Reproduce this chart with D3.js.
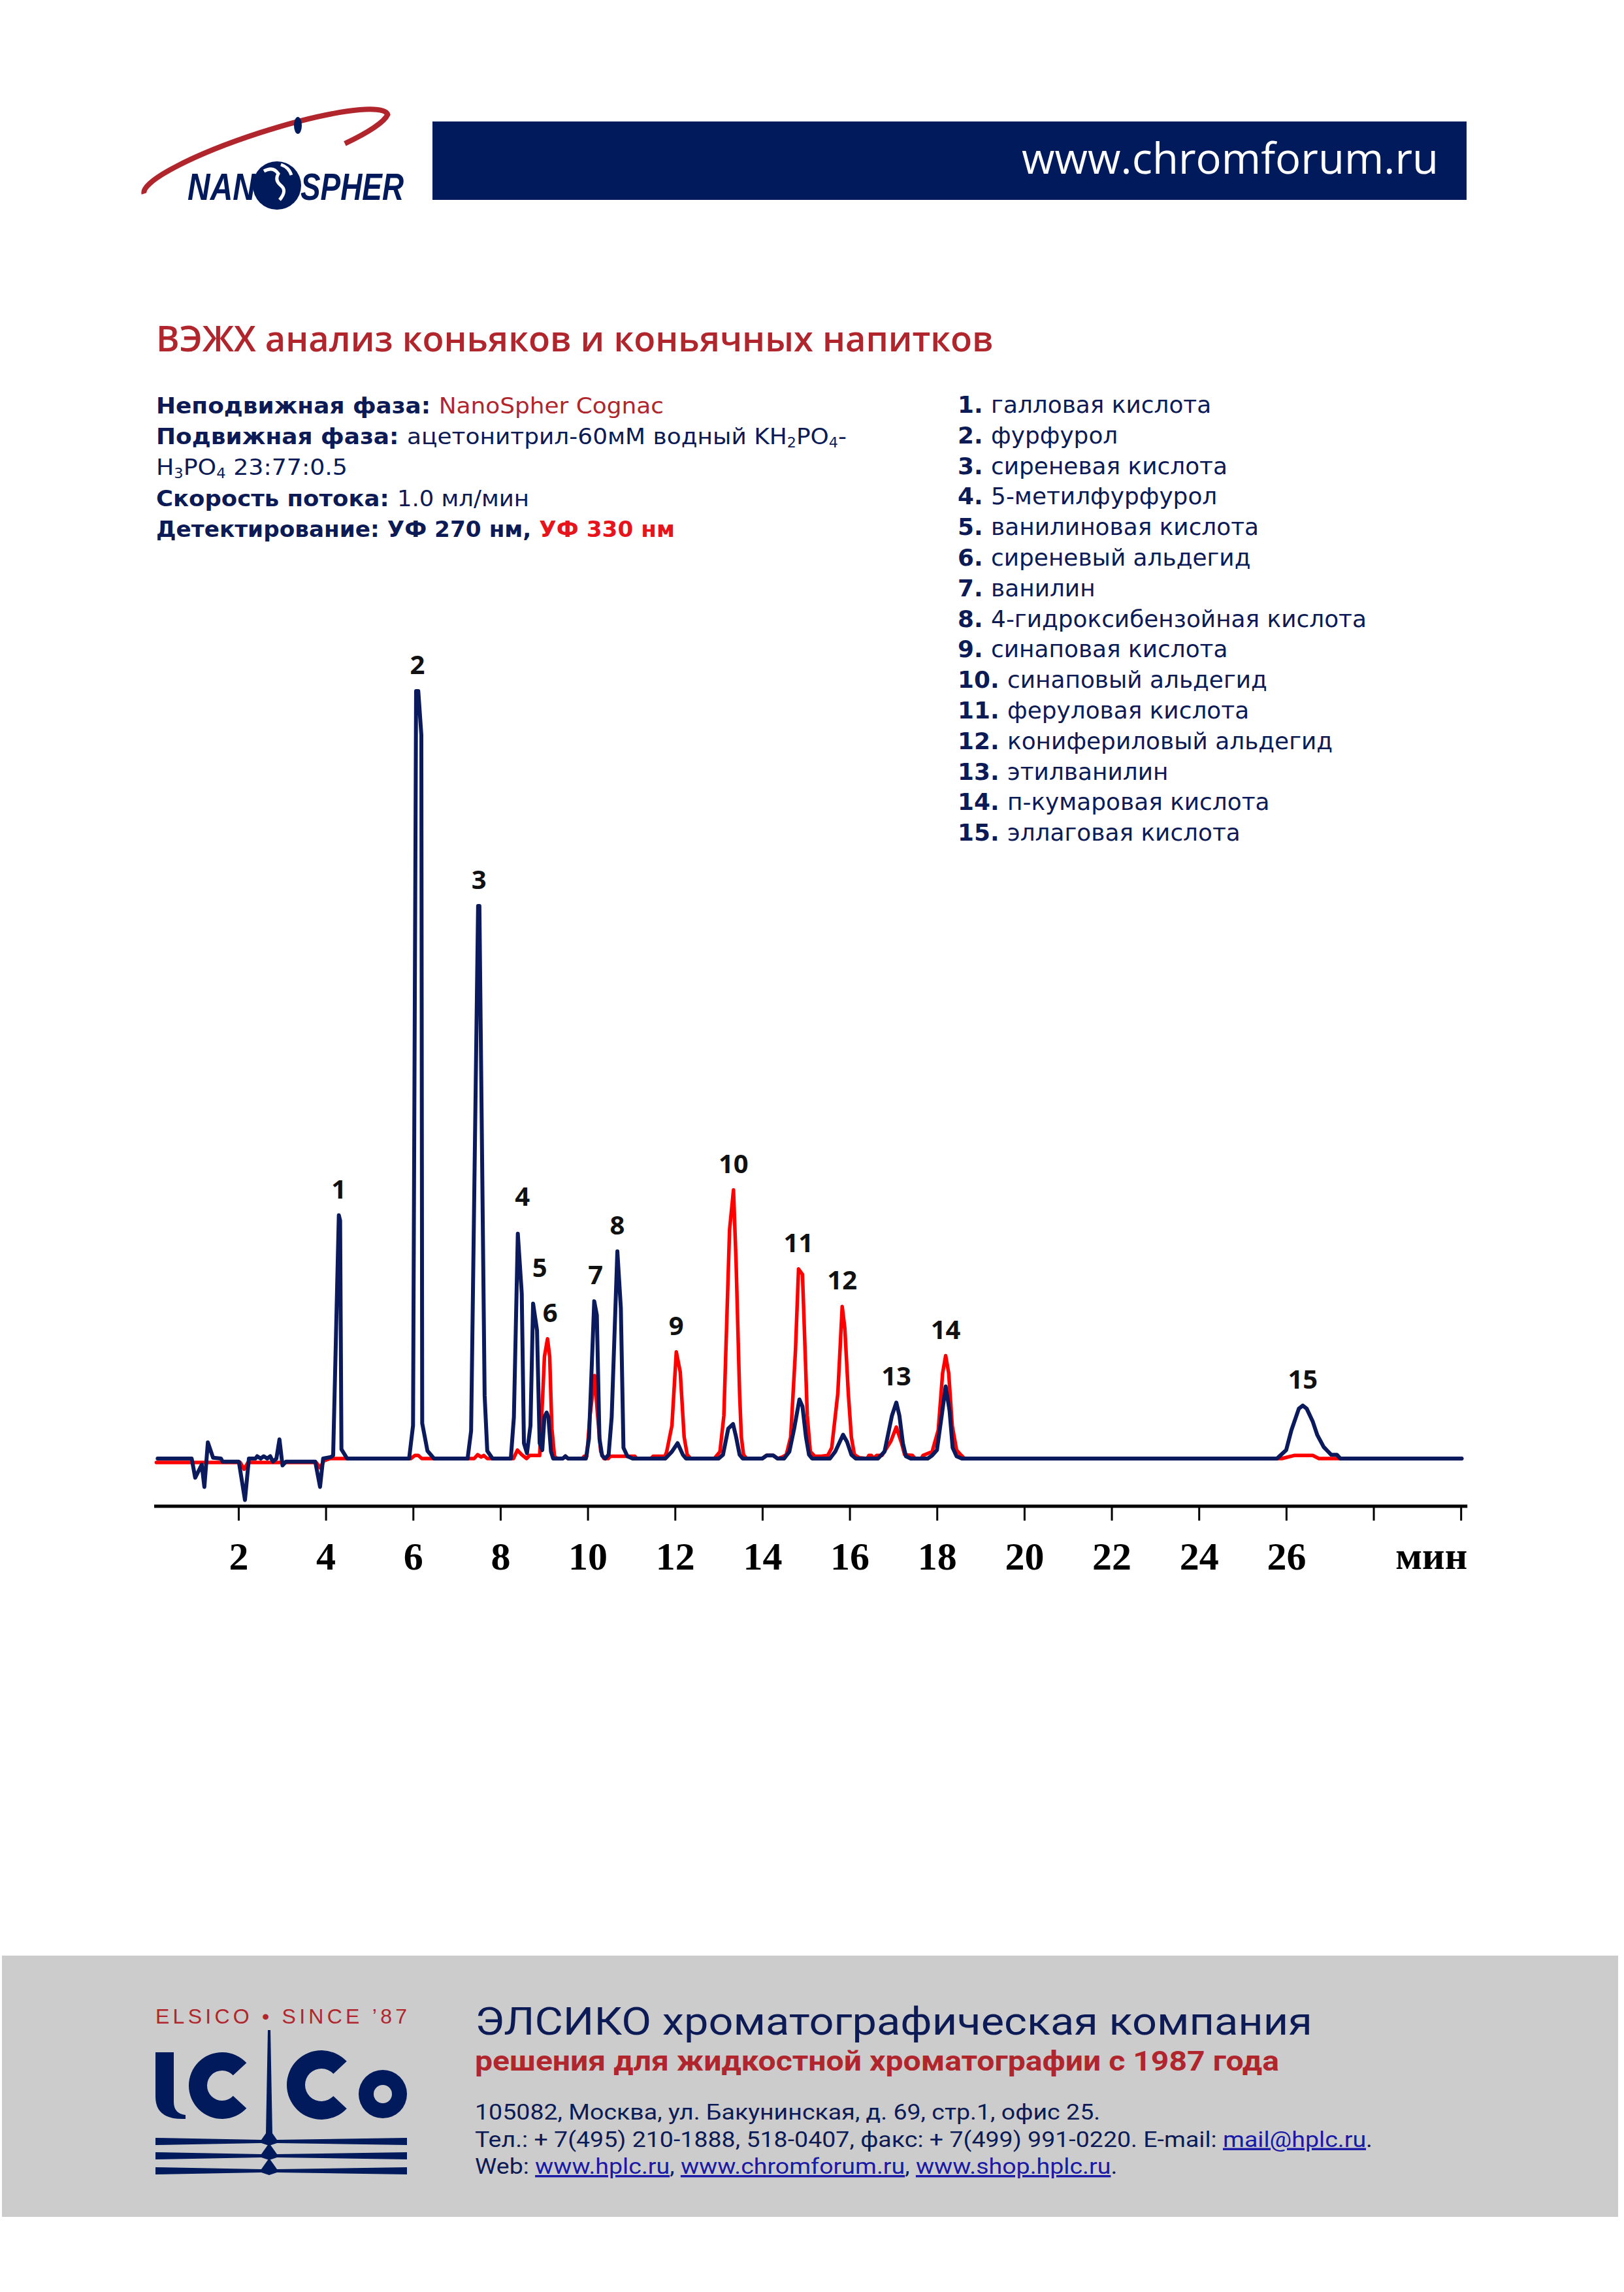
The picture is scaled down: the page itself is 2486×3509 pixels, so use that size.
<!DOCTYPE html>
<html><head><meta charset="utf-8">
<script src="https://cdn.jsdelivr.net/npm/d3@7"></script>
<style>body{margin:0;background:#fff}svg{display:block}</style>
</head><body>
<svg id="c" width="2486" height="3509"></svg>
<script>
// ---------- DATA ----------
// UV 270 nm trace (navy): [time, min ; signal, arbitrary units]
const uv270 = [
 [0.15,0],[0.93,0],[1.01,-25],[1.16,-8],[1.22,-37],[1.30,21],[1.42,1],[1.60,0],[1.64,-4],[2.01,-4],[2.15,-54],[2.24,0],[2.39,0],[2.43,3],[2.51,0],[2.58,3],[2.66,0],[2.73,3],[2.79,-4],[2.87,0],[2.94,25],[3.01,-9],[3.09,-4],[3.76,-4],[3.87,-37],[3.94,0],[4.12,2],[4.17,4],[4.30,317],[4.33,310],[4.36,12],[4.49,0],
 [5.91,0],[6.00,43],[6.07,1000],[6.12,1000],[6.19,943],[6.21,46],[6.33,10],[6.48,0],
 [7.25,0],[7.33,36],[7.49,720],[7.52,720],[7.64,82],[7.70,10],[7.82,0],
 [8.24,0],[8.31,54],[8.40,293],[8.49,215],[8.54,20],[8.61,7],[8.69,43],[8.75,202],[8.84,167],[8.90,20],[8.96,11],[9.01,54],[9.06,60],[9.10,54],[9.16,9],[9.21,0],[9.43,0],[9.49,3],[9.55,0],[9.96,0],[10.03,26],[10.15,205],[10.21,187],[10.27,26],[10.33,4],[10.40,0],[10.48,5],[10.55,54],[10.68,270],[10.76,196],[10.82,14],[10.91,3],[11.03,0],
 [11.78,0],[11.93,9],[12.06,20],[12.18,5],[12.25,0],
 [13.00,0],[13.10,5],[13.22,39],[13.33,45],[13.40,28],[13.48,5],[13.55,0],
 [14.00,0],[14.10,4],[14.25,4],[14.35,0],
 [14.50,0],[14.62,9],[14.73,39],[14.85,77],[14.92,68],[15.00,28],[15.07,5],[15.14,0],
 [15.55,0],[15.67,9],[15.85,31],[15.94,22],[16.04,5],[16.14,0],
 [16.65,0],[16.80,9],[16.97,56],[17.07,73],[17.14,56],[17.22,20],[17.29,3],[17.40,0],
 [17.79,0],[17.89,4],[18.00,11],[18.11,56],[18.20,94],[18.29,62],[18.36,14],[18.45,3],[18.57,0],
 [25.79,0],[26.00,11],[26.12,37],[26.29,65],[26.38,69],[26.47,65],[26.61,48],[26.71,31],[26.86,15],[27.03,5],[27.16,5],[27.24,0],[30.02,0]
];
// UV 330 nm trace (red)
const uv330 = [
 [0.12,-5],[2.04,-5],[2.13,-14],[2.22,-5],[3.78,-5],[3.87,-12],[3.96,-3],[4.10,0],[5.95,0],[6.04,4],[6.12,4],[6.20,0],[7.40,0],[7.48,5],[7.56,2],[7.62,4],[7.70,0],
 [8.30,0],[8.39,11],[8.49,5],[8.60,0],[8.67,4],[8.90,4],[8.97,82],[9.01,133],[9.08,156],[9.13,133],[9.18,39],[9.24,3],[9.30,0],[9.43,0],[9.49,3],[9.55,0],[9.88,0],[9.92,3],[9.98,3],[10.05,54],[10.16,108],[10.23,54],[10.30,9],[10.37,0],[10.47,0],[10.52,3],[11.08,3],[11.12,0],
 [11.45,0],[11.50,3],[11.77,3],[11.81,9],[11.93,43],[12.03,139],[12.12,113],[12.21,28],[12.28,5],[12.36,0],
 [12.90,0],[13.03,9],[13.12,56],[13.25,298],[13.34,350],[13.40,255],[13.48,85],[13.52,28],[13.57,5],[13.64,0],
 [14.00,0],[14.10,4],[14.25,4],[14.35,0],
 [14.46,2],[14.55,5],[14.65,28],[14.76,141],[14.83,247],[14.92,240],[14.98,141],[15.03,56],[15.10,9],[15.20,3],[15.35,3],[15.50,4],
 [15.59,14],[15.73,85],[15.83,198],[15.89,170],[15.97,85],[16.04,28],[16.11,5],[16.22,1],
 [16.40,0],[16.44,4],[16.50,4],[16.55,0],[16.62,4],[16.74,4],[16.94,22],[17.07,41],[17.19,20],[17.26,5],[17.44,4],[17.50,0],
 [17.64,0],[17.68,4],[17.89,9],[18.03,37],[18.13,111],[18.20,134],[18.27,111],[18.35,43],[18.45,11],[18.56,4],[18.63,0],
 [25.90,0],[26.18,4],[26.61,4],[26.75,0],[30.02,0]
];
const peakNumbers = [1,2,3,4,5,6,7,8,9,10,11,12,13,14,15];
const peakApexTimes = [4.30,6.10,7.51,8.40,8.75,9.08,10.15,10.68,12.03,13.34,14.83,15.83,17.07,18.20,26.38];
const compounds = ["галловая кислота","фурфурол","сиреневая кислота","5-метилфурфурол","ванилиновая кислота","сиреневый альдегид","ванилин","4-гидроксибензойная кислота","синаповая кислота","синаповый альдегид","феруловая кислота","конифериловый альдегид","этилванилин","п-кумаровая кислота","эллаговая кислота"];
const tickValues = [2,4,6,8,10,12,14,16,18,20,22,24,26,28,30];
const tickLabels = ["2","4","6","8","10","12","14","16","18","20","22","24","26","",""];
const axisUnit = "мин";

// ---------- STYLE ----------
const NAVY = "#0c1b56", BAR = "#011a5b", DARKRED = "#b0262c", RED = "#ff0000", BRIGHTRED = "#e8141b", LINK = "#1a1aa6";
const SANS = "'Open Sans','Noto Sans',sans-serif";
const TIGHT = "Roboto,'Open Sans',sans-serif";
const WIDE = "'DejaVu Sans','Open Sans',sans-serif";
const SERIF = "'Liberation Serif','DejaVu Serif',serif";
const labelNudge = {4:[7,-17], 5:[10,-15], 6:[4,0], 7:[2,0]};
const infoWidths = [777, 1057, 293, 571, 794];

const svg = d3.select("#c");
svg.append("rect").attr("width",2486).attr("height",3509).attr("fill","#fff");

function fit(sel, width){
  const fs = parseFloat(sel.attr("font-size"));
  const w = sel.node().getComputedTextLength();
  const nf = fs*width/w;
  sel.attr("font-size", nf);
  return nf;
}
function richText(g, x, y, segs, fs, family){
  const t = g.append("text").attr("x",x).attr("y",y).attr("font-family",family||SANS).attr("font-size",fs);
  segs.forEach(s=>{
    const ts = t.append("tspan").text(s.t).attr("fill", s.c||NAVY).attr("font-weight", s.b?700:400);
    if (s.sub){ ts.attr("font-size","0.62em").attr("dy",5); }
    if (s.after){ ts.attr("dy",-5); }
    if (s.u){ ts.attr("text-decoration","underline"); }
  });
  return t;
}
function stretchBlock(texts, refIdx, refWidth){
  const nat = texts.map(t=>t.node().getComputedTextLength());
  const k = refWidth/nat[refIdx];
  texts.forEach((t,i)=> t.attr("textLength", nat[i]*k).attr("lengthAdjust","spacingAndGlyphs"));
}

// ---------- HEADER ----------
const hdr = svg.append("g");
hdr.append("rect").attr("x",662).attr("y",186).attr("width",1583).attr("height",120).attr("fill",BAR);
const url = hdr.append("text").attr("x",2202).attr("y",266).attr("text-anchor","end")
  .attr("font-family",SANS).attr("font-size",56).attr("font-weight",500).attr("fill","#fff").text("www.chromforum.ru");
fit(url, 638);

// NanoSpher logo (approximation)
const lg = hdr.append("g");
lg.append("path").attr("transform","translate(407,236) rotate(-18)")
  .attr("d","M -196 0 A 196 34 0 0 1 196 0 A 196 34 0 0 1 120 22").attr("fill","none").attr("stroke",DARKRED).attr("stroke-width",8);
lg.append("ellipse").attr("cx",456).attr("cy",192).attr("rx",6).attr("ry",13).attr("fill",BAR);
lg.append("circle").attr("cx",424).attr("cy",284).attr("r",37).attr("fill",BAR);
lg.append("path").attr("d","M404 262 q14 -8 22 4 q-6 10 4 18 q10 8 -2 22 M430 252 q12 4 16 16").attr("fill","none").attr("stroke","#fff").attr("stroke-width",5);
lg.append("text").attr("x",287).attr("y",306).attr("font-family","'Liberation Sans',sans-serif").attr("font-weight",700).attr("font-style","italic")
  .attr("font-size",58).attr("fill",BAR).attr("textLength",104).attr("lengthAdjust","spacingAndGlyphs").text("NAN");
lg.append("text").attr("x",460).attr("y",306).attr("font-family","'Liberation Sans',sans-serif").attr("font-weight",700).attr("font-style","italic")
  .attr("font-size",58).attr("fill",BAR).attr("textLength",158).attr("lengthAdjust","spacingAndGlyphs").text("SPHER");

// ---------- TITLE & INFO ----------
const title = svg.append("text").attr("x",239).attr("y",538).attr("font-family",SANS).attr("font-weight",600)
  .attr("font-size",54).attr("fill",DARKRED).text("ВЭЖХ анализ коньяков и коньячных напитков");
fit(title, 1282);

const info = svg.append("g");
const infoLines = [
  [{t:"Неподвижная фаза: ",b:1},{t:"NanoSpher Cognac",c:DARKRED}],
  [{t:"Подвижная фаза: ",b:1},{t:"ацетонитрил-60мМ водный KH"},{t:"2",sub:1},{t:"PO",after:1},{t:"4",sub:1},{t:"-",after:1}],
  [{t:"H"},{t:"3",sub:1},{t:"PO",after:1},{t:"4",sub:1},{t:" 23:77:0.5",after:1}],
  [{t:"Скорость потока: ",b:1},{t:"1.0 мл/мин"}],
  [{t:"Детектирование: УФ 270 нм, ",b:1},{t:"УФ 330 нм",b:1,c:BRIGHTRED}]
];
infoLines.forEach((segs,i)=> richText(info, 239, 633 + 47.2*i, segs, 34.5, WIDE)
  .attr("textLength", infoWidths[i]).attr("lengthAdjust","spacingAndGlyphs"));

// ---------- LEGEND ----------
const leg = svg.append("g");
const legTexts = compounds.map((name,i)=> richText(leg, 1466, 632 + 46.8*i, [{t:peakNumbers[i]+". ",b:1},{t:name}], 35, WIDE));
stretchBlock(legTexts, 7, 626);

// ---------- CHART ----------
const x = d3.scaleLinear().domain([0,30]).range([231.3, 2236.2]);
const y = d3.scaleLinear().domain([0,1000]).range([2233, 1058]);
const line = d3.line().x(d=>x(d[0])).y(d=>y(d[1]));
const chart = svg.append("g");
chart.append("path").datum(uv330).attr("d",line).attr("fill","none").attr("stroke",RED)
  .attr("stroke-width",5.5).attr("stroke-linejoin","round").attr("stroke-linecap","round");
chart.append("path").datum(uv270).attr("d",line).attr("fill","none").attr("stroke","#0a1a5c")
  .attr("stroke-width",6).attr("stroke-linejoin","round").attr("stroke-linecap","round");

// peak labels
const allPts = uv270.concat(uv330);
chart.selectAll("text.pk").data(peakNumbers).join("text").attr("class","pk")
  .attr("x",(d,i)=>x(peakApexTimes[i]) + (labelNudge[d]?labelNudge[d][0]:0))
  .attr("y",(d,i)=>{
    const t = peakApexTimes[i];
    const top = d3.max(allPts.filter(p=>Math.abs(p[0]-t)<=0.05), p=>p[1]);
    return y(top) - 26 + (labelNudge[d]?labelNudge[d][1]:0);
  })
  .attr("text-anchor","middle").attr("font-family",SANS).attr("font-weight",700)
  .attr("font-size",40).attr("fill","#111").text(d=>d);

// axis
const axis = d3.axisBottom(x).tickValues(tickValues).tickSize(22).tickSizeOuter(0).tickPadding(32)
  .tickFormat((d,i)=>tickLabels[i]);
const ax = chart.append("g").attr("transform","translate(0,2306)").call(axis);
ax.select(".domain").attr("d",`M${x(0.07)},0H${x(30.15)}`).attr("stroke","#000").attr("stroke-width",5);
ax.selectAll(".tick line").attr("stroke","#000").attr("stroke-width",3);
ax.selectAll(".tick text").attr("font-family",SERIF).attr("font-weight",700).attr("font-size",60).attr("fill","#000");
chart.append("text").attr("x",x(30.15)).attr("y",2402).attr("text-anchor","end").attr("font-family",SERIF)
  .attr("font-weight",700).attr("font-size",60).attr("fill","#000").text(axisUnit);

// ---------- FOOTER ----------
const ft = svg.append("g");
ft.append("rect").attr("x",3).attr("y",2994).attr("width",2474).attr("height",400).attr("fill","#cccccc");
ft.append("text").attr("x",727).attr("y",3115).attr("font-family",TIGHT).attr("font-size",60)
  .attr("fill",NAVY).attr("textLength",1282).attr("lengthAdjust","spacingAndGlyphs").text("ЭЛСИКО хроматографическая компания");
ft.append("text").attr("x",727).attr("y",3170).attr("font-family",TIGHT).attr("font-weight",700).attr("font-size",42)
  .attr("fill",DARKRED).attr("textLength",1231).attr("lengthAdjust","spacingAndGlyphs").text("решения для жидкостной хроматографии с 1987 года");
const addr = [
  [{t:"105082, Москва, ул. Бакунинская, д. 69, стр.1, офис 25."}],
  [{t:"Тел.: + 7(495) 210-1888, 518-0407, факс: + 7(499) 991-0220. E-mail: "},{t:"mail@hplc.ru",c:LINK,u:1},{t:"."}],
  [{t:"Web: "},{t:"www.hplc.ru",c:LINK,u:1},{t:", "},{t:"www.chromforum.ru",c:LINK,u:1},{t:", "},{t:"www.shop.hplc.ru",c:LINK,u:1},{t:"."}]
];
const addrTexts = addr.map((segs,i)=> richText(ft, 727, 3245 + 41.5*i, segs, 34, TIGHT));
stretchBlock(addrTexts, 1, 1374);

// ELSICO logo (approximation, drawn as shapes)
const el = ft.append("g");
el.append("text").attr("x",238).attr("y",3098).attr("font-family","'Liberation Sans Narrow','Liberation Sans',sans-serif")
  .attr("font-size",32).attr("fill",DARKRED).attr("textLength",385).attr("lengthAdjust","spacing").text("ELSICO • SINCE ’87");
el.append("path").attr("d","M238 3142 H266 V3218 Q266 3236 284 3238 V3244 Q238 3246 238 3210 Z").attr("fill",BAR);
const ring = d3.arc();
el.append("path").attr("transform","translate(340,3193)")
  .attr("d", ring({innerRadius:23, outerRadius:51, startAngle:Math.PI/2+0.75, endAngle:Math.PI*2.5-0.75})).attr("fill",BAR);
el.append("path").attr("transform","translate(492,3192)")
  .attr("d", ring({innerRadius:25, outerRadius:53, startAngle:Math.PI/2+0.75, endAngle:Math.PI*2.5-0.75})).attr("fill",BAR);
el.append("path").attr("transform","translate(586,3206)")
  .attr("d", ring({innerRadius:14, outerRadius:37, startAngle:0, endAngle:Math.PI*2})).attr("fill",BAR);
el.append("path").attr("d","M410 3108 L414 3108 L417 3268 L407 3268 Z").attr("fill",BAR);
[3273, 3295, 3318].forEach(yb=>{
  el.append("path").attr("d",`M238 ${yb} L400 ${yb+3} L412 ${yb-14} L424 ${yb+3} L623 ${yb} L623 ${yb+11} L424 ${yb+8} L412 ${yb+12} L400 ${yb+8} L238 ${yb+11} Z`).attr("fill",BAR);
});
</script>
</body></html>
